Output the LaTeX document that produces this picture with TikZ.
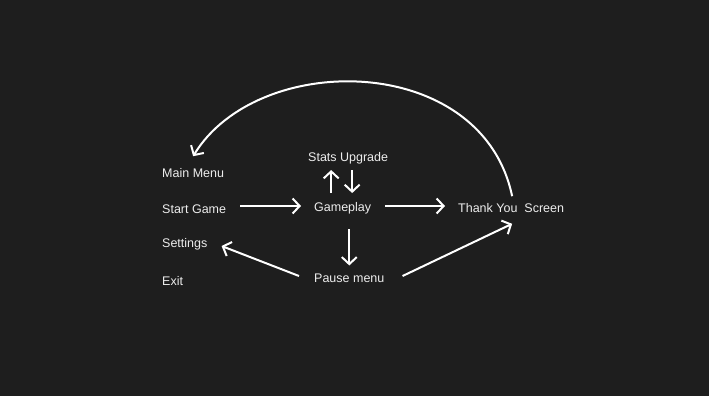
\documentclass[tikz,border=0pt]{standalone}
\usepackage{fontspec}
\setmainfont{Liberation Sans}
\usetikzlibrary{arrows.meta,calc,positioning}
\definecolor{bgdark}{HTML}{1E1E1E}
\definecolor{txtlight}{HTML}{EDEDED}
\tikzset{
  lbl/.style={text=txtlight,inner sep=0pt,font=\fontsize{12.5}{14}\selectfont},
  arr/.style={-{Straight Barb[length=7pt,width=15pt]},white,line width=2pt}
}

\begin{document}
\begin{tikzpicture}[x=1pt,y=-1pt]
        \fill[bgdark] (0,0) rectangle (709,396);
        \useasboundingbox (0,0) rectangle (709,396);

        % menu column
        \node[lbl,anchor=west] (main) at (162,173) {Main Menu};
        \node[lbl,anchor=west] (start) at (162,209) {Start Game};
        \node[lbl,anchor=west] (settings) at (162,244) {Settings};
        \node[lbl,anchor=west] (exit) at (162,281) {Exit};

        % game states
        \node[lbl,anchor=west] (stats) at (308,158) {Stats Upgrade};
        \node[lbl,anchor=west] (game) at (314,208) {Gameplay};
        \node[lbl,anchor=west] (pause) at (314,278) {Pause menu};
        \node[lbl,anchor=west] (thank) at (458,208) {Thank You\ \ Screen};

        \draw[arr] ($(start.east |- game.east)+(14,-2)$) -- ($(game.west)+(-13,-2)$);
        \draw[arr] ($(game.east)+(14,-2)$) -- ($(thank.west)+(-13,-2)$);
        \draw[arr] ($(stats.south)+(-17,29)$) -- ($(stats.south)+(-17,6)$);
        \draw[arr] ($(stats.south)+(4,6)$) -- ($(stats.south)+(4,29)$);
        \draw[arr] ($(pause.north)+(0,-44)$) -- ($(pause.north)+(0,-8)$);
        \draw[arr] ($(pause.west)+(-15,-2)$) -- ($(settings.east)+(14,2)$);
        \draw[arr] ($(pause.east)+(18,-2)$) -- ($(thank.south)+(1,11)$);

        % back to the main menu
        \draw[arr] ($(thank.north)+(1,-7)$) .. controls (482,52) and (258,50) .. ($(main.north)+(0,-12)$);
      \end{tikzpicture}
\end{document}
